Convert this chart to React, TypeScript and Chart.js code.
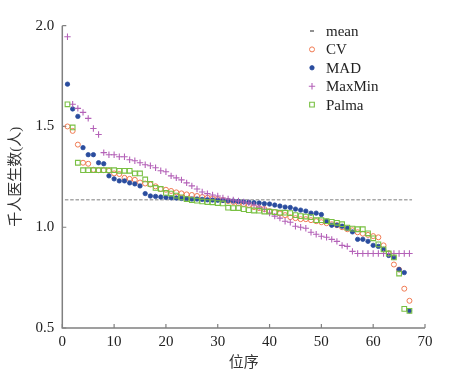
import React, { useEffect, useRef } from "react";
import { Chart, registerables } from "chart.js";

Chart.register(...registerables);

// ---- data ----
const rank = [
  1, 2, 3, 4, 5, 6, 7, 8, 9, 10, 11, 12, 13, 14, 15, 16, 17, 18, 19, 20,
  21, 22, 23, 24, 25, 26, 27, 28, 29, 30, 31, 32, 33, 34, 35, 36, 37, 38, 39, 40,
  41, 42, 43, 44, 45, 46, 47, 48, 49, 50, 51, 52, 53, 54, 55, 56, 57, 58, 59, 60,
  61, 62, 63, 64, 65, 66, 67,
];

const cvValues = [
  1.5, 1.478, 1.41, 1.32, 1.315, 1.285, 1.283, 1.283, 1.28, 1.267,
  1.264, 1.245, 1.24, 1.235, 1.222, 1.217, 1.212, 1.203, 1.19, 1.186,
  1.18, 1.173, 1.168, 1.163, 1.16, 1.155, 1.15, 1.146, 1.143, 1.14,
  1.135, 1.13, 1.125, 1.12, 1.115, 1.11, 1.1, 1.095, 1.09, 1.08,
  1.075, 1.068, 1.06, 1.05, 1.045, 1.04, 1.04, 1.035, 1.03, 1.025,
  1.02, 1.015, 1.01, 1.0, 0.99, 0.985, 0.975, 0.968, 0.962, 0.956,
  0.95, 0.91, 0.87, 0.815, 0.79, 0.695, 0.635,
];

const madValues = [
  1.71, 1.587, 1.55, 1.395, 1.36, 1.36, 1.32, 1.315, 1.255, 1.24,
  1.23, 1.23, 1.22, 1.215, 1.205, 1.167, 1.155, 1.153, 1.15, 1.148,
  1.146, 1.145, 1.143, 1.142, 1.14, 1.14, 1.138, 1.136, 1.135, 1.134,
  1.133, 1.132, 1.13, 1.128, 1.126, 1.124, 1.122, 1.12, 1.117, 1.115,
  1.11, 1.105, 1.1, 1.098, 1.09, 1.085, 1.08, 1.07, 1.07, 1.063,
  1.03, 1.01, 1.01, 1.005, 0.995, 0.977, 0.94, 0.94, 0.93, 0.91,
  0.905, 0.89, 0.86, 0.85, 0.79, 0.775, 0.585,
];

const maxMinValues = [
  1.945, 1.61, 1.59, 1.57, 1.54, 1.49, 1.46, 1.37, 1.36, 1.36,
  1.35, 1.35, 1.335, 1.33, 1.32, 1.31, 1.305, 1.295, 1.28, 1.275,
  1.255, 1.245, 1.235, 1.22, 1.205, 1.19, 1.175, 1.167, 1.16, 1.155,
  1.145, 1.14, 1.135, 1.13, 1.125, 1.12, 1.11, 1.1, 1.09, 1.07,
  1.055, 1.045, 1.03, 1.025, 1.005, 1.0, 0.995, 0.975, 0.965, 0.955,
  0.95, 0.94, 0.93, 0.91, 0.905, 0.88, 0.87, 0.87, 0.87, 0.87,
  0.87, 0.87, 0.87, 0.87, 0.87, 0.87, 0.87,
];

const palmaValues = [
  1.61, 1.495, 1.32, 1.283, 1.283, 1.283, 1.283, 1.283, 1.283, 1.283,
  1.28, 1.28, 1.28, 1.267, 1.267, 1.237, 1.215, 1.195, 1.19, 1.17,
  1.167, 1.157, 1.148, 1.14, 1.135, 1.132, 1.128, 1.125, 1.124, 1.12,
  1.118, 1.097, 1.095, 1.095, 1.09, 1.085, 1.083, 1.082, 1.078, 1.077,
  1.075, 1.072, 1.072, 1.07, 1.06, 1.055, 1.053, 1.05, 1.035, 1.035,
  1.03, 1.027, 1.022, 1.015, 0.998, 0.993, 0.99, 0.99, 0.97, 0.945,
  0.915, 0.89, 0.87, 0.85, 0.77, 0.595, 0.585,
];

const meanValue = 1.136;
const meanLineX = [0.5, 67.5];

const xTicks = [0, 10, 20, 30, 40, 50, 60, 70];
const yTicks = [0.5, 1.0, 1.5, 2.0];

const xTitle = "位序";
const yTitle = "千人医生数(人)";

// ---- styles ----
const C_MEAN = "#a8a8a8";
const C_CV = "#f07a52";
const C_MAD = "#2a4c9e";
const C_MAXMIN = "#b462b8";
const C_PALMA = "#79c043";
const AXIS = "#808080";
const SERIF = "'Liberation Serif', 'Times New Roman', serif";
const TITLE_FONT = "'Liberation Serif', 'Noto Sans CJK SC', serif";

const toPoints = (vals: number[]) => vals.map((v, i) => ({ x: rank[i], y: v }));

function drawMarker(ctx: CanvasRenderingContext2D, style: string, r: number, x: number, y: number) {
  ctx.beginPath();
  if (style === "circle") {
    ctx.arc(x, y, r, 0, Math.PI * 2);
    ctx.fill();
    ctx.stroke();
  } else if (style === "rect") {
    const s = Math.SQRT1_2 * r;
    ctx.rect(x - s, y - s, 2 * s, 2 * s);
    ctx.fill();
    ctx.stroke();
  } else if (style === "cross") {
    ctx.moveTo(x - r, y);
    ctx.lineTo(x + r, y);
    ctx.moveTo(x, y - r);
    ctx.lineTo(x, y + r);
    ctx.stroke();
  }
}

const axisPlugin = {
  id: "axisPlugin",
  beforeDatasetsDraw(chart: any) {
    const { ctx, chartArea, scales } = chart;
    const xs = scales.x;
    const ys = scales.y;
    ctx.save();
    ctx.strokeStyle = AXIS;
    ctx.lineWidth = 1.5;
    ctx.beginPath();
    ctx.moveTo(chartArea.left, chartArea.top);
    ctx.lineTo(chartArea.left, chartArea.bottom);
    ctx.lineTo(chartArea.right, chartArea.bottom);
    ctx.stroke();
    ctx.lineWidth = 1.2;
    ctx.beginPath();
    for (const t of yTicks) {
      const y = ys.getPixelForValue(t);
      ctx.moveTo(chartArea.left, y);
      ctx.lineTo(chartArea.left + 4, y);
    }
    for (const t of xTicks) {
      const x = xs.getPixelForValue(t);
      ctx.moveTo(x, chartArea.bottom);
      ctx.lineTo(x, chartArea.bottom - 4);
    }
    ctx.stroke();
    ctx.restore();
  },
};

const legendPlugin = {
  id: "insideLegend",
  afterDraw(chart: any) {
    const { ctx } = chart;
    const mx = 312;
    const tx = 326;
    const y0 = 31;
    const dy = 18.4;
    ctx.save();
    ctx.textBaseline = "middle";
    ctx.textAlign = "left";
    chart.data.datasets.forEach((ds: any, i: number) => {
      const y = y0 + i * dy;
      ctx.save();
      if (ds.legendMarker === "dash") {
        ctx.strokeStyle = "#555";
        ctx.lineWidth = 1.3;
        ctx.beginPath();
        ctx.moveTo(mx - 2, y);
        ctx.lineTo(mx + 2, y);
        ctx.stroke();
      } else {
        ctx.strokeStyle = ds.pointBorderColor;
        ctx.fillStyle = ds.pointBackgroundColor;
        ctx.lineWidth = ds.pointBorderWidth;
        drawMarker(ctx, ds.pointStyle, ds.pointRadius, mx, y);
      }
      ctx.restore();
      ctx.fillStyle = "#222";
      ctx.font = `15px ${SERIF}`;
      ctx.fillText(ds.label, tx, y + 1);
    });
    ctx.restore();
  },
};

export default function App() {
  const ref = useRef<HTMLCanvasElement | null>(null);

  useEffect(() => {
    if (!ref.current) return;
    const datasets: any[] = [
      {
        type: "line",
        label: "mean",
        legendMarker: "dash",
        data: meanLineX.map((x) => ({ x, y: meanValue })),
        borderColor: C_MEAN,
        borderWidth: 1.6,
        borderDash: [3.5, 1.8],
        pointRadius: 0,
        fill: false,
        order: 5,
      },
      {
        label: "CV",
        data: toPoints(cvValues),
        pointStyle: "circle",
        pointRadius: 2.5,
        pointBorderWidth: 1,
        borderColor: C_CV,
        backgroundColor: "rgba(0,0,0,0)",
        pointBackgroundColor: "rgba(0,0,0,0)",
        pointBorderColor: C_CV,
        order: 4,
      },
      {
        label: "MAD",
        data: toPoints(madValues),
        pointStyle: "circle",
        pointRadius: 2.2,
        pointBorderWidth: 0.8,
        borderColor: C_MAD,
        backgroundColor: C_MAD,
        pointBackgroundColor: C_MAD,
        pointBorderColor: C_MAD,
        order: 3,
      },
      {
        label: "MaxMin",
        data: toPoints(maxMinValues),
        pointStyle: "cross",
        pointRadius: 3.2,
        pointBorderWidth: 1.1,
        borderColor: C_MAXMIN,
        backgroundColor: C_MAXMIN,
        pointBackgroundColor: C_MAXMIN,
        pointBorderColor: C_MAXMIN,
        order: 2,
      },
      {
        label: "Palma",
        data: toPoints(palmaValues),
        pointStyle: "rect",
        pointRadius: 3.3,
        pointBorderWidth: 1.1,
        borderColor: C_PALMA,
        backgroundColor: "rgba(0,0,0,0)",
        pointBackgroundColor: "rgba(0,0,0,0)",
        pointBorderColor: C_PALMA,
        order: 1,
      },
    ];

    const chart = new Chart(ref.current, {
      type: "scatter",
      data: { datasets },
      options: {
        animation: false,
        responsive: false,
        devicePixelRatio: 1,
        events: [],
        layout: { padding: { left: 0, right: 35, top: 25.7, bottom: 0 } },
        plugins: {
          legend: { display: false },
          tooltip: { enabled: false },
        },
        scales: {
          x: {
            type: "linear",
            position: "bottom",
            min: 0,
            max: 70,
            afterBuildTicks: (s: any) => {
              s.ticks = xTicks.map((v) => ({ value: v }));
            },
            ticks: {
              font: { family: SERIF, size: 15 },
              color: "#222",
              padding: 5,
              maxRotation: 0,
              autoSkip: false,
            },
            grid: { display: false, drawTicks: false },
            border: { display: false },
            title: {
              display: true,
              text: xTitle,
              font: { family: TITLE_FONT, size: 15 },
              color: "#333",
              padding: { top: 0, bottom: 3 },
            },
            afterFit: (s: any) => {
              s.height = 47;
            },
          },
          y: {
            type: "linear",
            min: 0.5,
            max: 2.0,
            afterBuildTicks: (s: any) => {
              s.ticks = yTicks.map((v) => ({ value: v }));
            },
            ticks: {
              font: { family: SERIF, size: 15 },
              color: "#222",
              padding: 8,
              autoSkip: false,
              callback: (v: any) => Number(v).toFixed(1),
            },
            grid: { display: false, drawTicks: false },
            border: { display: false },
            title: {
              display: true,
              text: yTitle,
              font: { family: TITLE_FONT, size: 15 },
              color: "#333",
              padding: { top: 7, bottom: 0 },
            },
            afterFit: (s: any) => {
              s.width = 62.3;
            },
          },
        },
      } as any,
      plugins: [axisPlugin, legendPlugin],
    });
    return () => chart.destroy();
  }, []);

  return (
    <div style={{ position: "fixed", left: 0, top: 0, width: 460, height: 375, background: "#fff" }}>
      <canvas ref={ref} width={460} height={375} style={{ display: "block", width: 460, height: 375 }} />
    </div>
  );
}
